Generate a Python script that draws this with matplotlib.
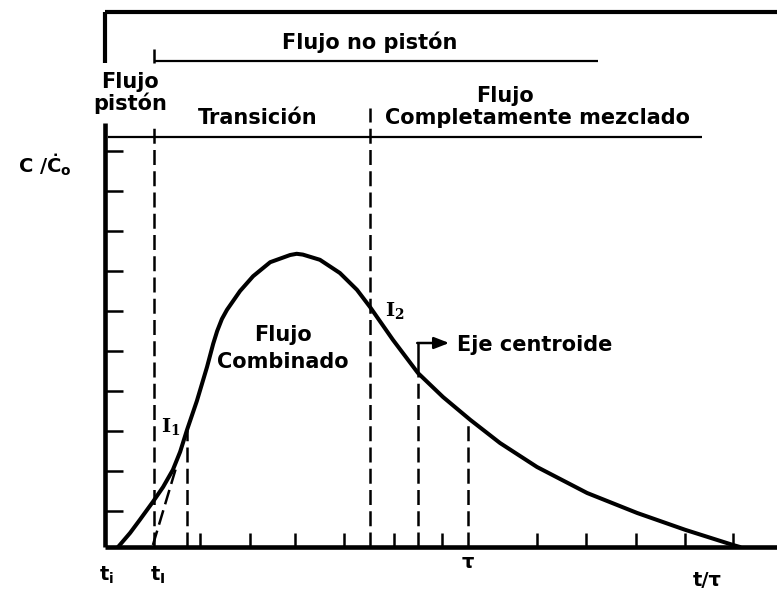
import numpy as np
import matplotlib
matplotlib.use("Agg")
import matplotlib.pyplot as plt

# RTD curve, x in t/tau, y in C/C0 (arbitrary units)
curve_x = [0.036, 0.069, 0.096, 0.132, 0.160, 0.187, 0.207, 0.226, 0.253, 0.281,
           0.298, 0.309, 0.322, 0.336, 0.372, 0.408, 0.455, 0.510, 0.528, 0.545,
           0.592, 0.647, 0.694, 0.730, 0.793, 0.862, 0.931, 1.006, 1.088, 1.190,
           1.328, 1.466, 1.598, 1.730, 1.749]
curve_y = [0.000, 0.035, 0.068, 0.113, 0.150, 0.193, 0.238, 0.293, 0.365, 0.450,
           0.508, 0.540, 0.570, 0.593, 0.640, 0.677, 0.712, 0.730, 0.733, 0.731,
           0.718, 0.685, 0.643, 0.600, 0.518, 0.435, 0.375, 0.318, 0.260, 0.200,
           0.135, 0.085, 0.043, 0.005, 0.000]

x_ticks = [0.262, 0.399, 0.523, 0.658, 0.796, 0.928, 1.190, 1.325, 1.463, 1.598, 1.730]
y_ticks = [0.09, 0.19, 0.29, 0.39, 0.49, 0.59, 0.69, 0.79, 0.89, 0.99]

t_i = 0.036      # start of response
t_I = 0.135      # end of plug flow
I1 = (0.226, 0.293)
I2 = (0.730, 0.600)
centroid = (0.862, 0.435)
tau = (1.000, 0.318)
tangent_x = [0.132, 0.198]
tangent_y = [0.005, 0.205]

x_max = 1.851
y_max = 1.3375
y_band = 1.025      # transicion / mezclado line
y_noplug = 1.215    # "flujo no piston" line
x_noplug_end = 1.358
x_band_end = 1.645

fig = plt.figure(figsize=(7.77, 5.91), dpi=100)
ax = fig.add_axes([105 / 777, 44 / 591, 672 / 777, 535 / 591])
ax.set_xlim(0, x_max)
ax.set_ylim(0, y_max)
for s in ["top", "right", "left"]:
    ax.spines[s].set_visible(False)
ax.spines["bottom"].set_linewidth(3.3)
ax.spines["bottom"].set_capstyle("butt")

ax.set_xticks(x_ticks)
ax.set_yticks(y_ticks)
ax.set_xticklabels([])
ax.set_yticklabels([])
ax.tick_params(axis="x", direction="in", length=10, width=1.8)
ax.tick_params(axis="y", direction="in", length=13, width=1.8)

k = dict(color="black", clip_on=False, solid_capstyle="butt")
dash = dict(color="black", lw=1.8, ls=(0, (6, 2.5)), clip_on=False)

# axes frame pieces
ax.plot([0, 0], [0, 1.06], lw=3.3, **k)
ax.plot([0, 0], [1.21, y_max], lw=3.0, **k)
ax.plot([0, x_max], [y_max, y_max], lw=3.0, **k)
ax.plot([t_I, x_noplug_end], [y_noplug, y_noplug], lw=1.6, **k)
ax.plot([t_I, t_I], [1.21, 1.245], lw=1.8, **k)
ax.plot([0.008, x_band_end], [y_band, y_band], lw=1.6, **k)

# curve
ax.plot(curve_x, curve_y, lw=2.9, color="black", solid_joinstyle="round",
        solid_capstyle="round", clip_on=False)

# dashed guides
ax.plot([t_I, t_I], [0, 1.06], **dash)
ax.plot([I2[0], I2[0]], [0, 1.0975], **dash)
ax.plot([I1[0], I1[0]], [0, I1[1]], **dash)
ax.plot([centroid[0], centroid[0]], [0, centroid[1]], **dash)
ax.plot([tau[0], tau[0]], [0, tau[1]], **dash)
ax.plot(tangent_x, tangent_y, **dash)

# centroid arrow
ax.plot([centroid[0], centroid[0]], [centroid[1], 0.51], lw=1.8, **k)
ax.annotate("", xy=(0.948, 0.51), xytext=(centroid[0] - 0.002, 0.51),
            arrowprops=dict(arrowstyle="-|>,head_length=0.9,head_width=0.35",
                            lw=1.8, color="black", shrinkA=0, shrinkB=0),
            annotation_clip=False)

fp = dict(fontsize=15, fontweight="bold", family="DejaVu Sans", color="black",
          ha="center", va="center", clip_on=False)
ax.text(0.730, 1.2625, "Flujo no pistón", **fp)
ax.text(0.069, 1.1625, "Flujo", **fp)
ax.text(0.069, 1.11, "pistón", **fp)
ax.text(0.421, 1.0725, "Transición", **fp)
ax.text(1.102, 1.1275, "Flujo", **fp)
ax.text(1.190, 1.0725, "Completamente mezclado", **fp)
ax.text(0.490, 0.53, "Flujo", **fp)
ax.text(0.490, 0.4625, "Combinado", **fp)
ax.text(0.970, 0.505, "Eje centroide", **dict(fp, ha="left"))

sp = dict(fontsize=14, family="DejaVu Serif", fontweight="bold", color="black",
          ha="left", va="center", clip_on=False)
ax.text(0.155, 0.30, r"I$_\mathregular{1}$", **sp)
ax.text(0.772, 0.59, r"I$_\mathregular{2}$", **sp)

lp = dict(fontsize=14, fontweight="bold", family="DejaVu Sans", color="black",
          ha="center", va="center", clip_on=False)
ax.text(-0.165, 0.955, r"C /Ċ$_\mathregular{o}$", **lp)
ax.text(0.003, -0.07, r"t$_\mathregular{i}$", **lp)
ax.text(0.146, -0.07, r"t$_\mathregular{I}$", **lp)
ax.text(tau[0], -0.04, "τ", **lp)
ax.text(1.658, -0.083, "t/τ", **lp)

fig.savefig("out.png", dpi=100)
